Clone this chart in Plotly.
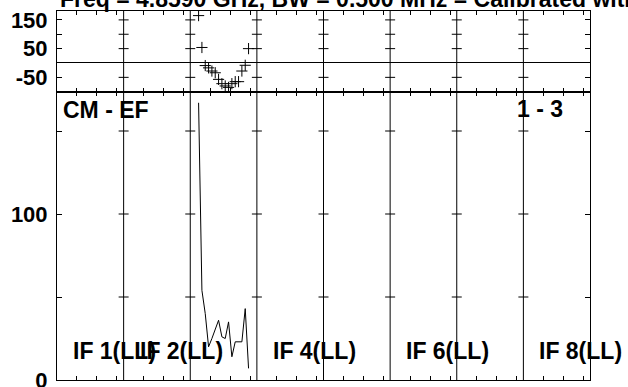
import plotly.graph_objects as go

# POSSM-style spectrum, baseline CM - EF, 8 IFs x 20 channels
n_if = 8
n_chan = 20
data_if = 3
channels = [3, 4, 5, 6, 7, 8, 9, 10, 11, 12, 13, 14, 15, 16, 17, 18]
amplitude = [167, 54, 40, 20, 25, 31, 36, 26, 25, 35, 14, 23, 23, 23, 43, 7]
phase = [165, 54, -9, -17, -28, -34, -57, -72, -80, -85, -72, -65, -65, -28, -8, 50]
if_labels = ["IF 1(LL)", "IF 2(LL)", "IF 4(LL)", "IF 6(LL)", "IF 8(LL)"]
if_label_index = [1, 2, 4, 6, 8]
amp_ticks = [0, 50, 100, 150]
amp_ticktext = ["0", "", "100", ""]
phase_ticks = [-50, 0, 50, 100, 150]
phase_ticktext = ["-50", "", "50", "", "150"]
chan_ticks = [6, 12, 18]

W, H = 628, 387
PL, PR, PT, PB = 57, 590, 11, 380      # plot area in pixels
split = 0.7805
TICKFONT = dict(family="Liberation Sans, Arial, sans-serif", size=22, color="black", weight="bold")
FONT = dict(family="Liberation Sans, Arial, sans-serif", size=23, color="black", weight="bold")

x_data = [(data_if - 1) * n_chan + c - 0.5 for c in channels]

fig = go.Figure()
fig.add_trace(go.Scatter(x=x_data, y=amplitude, mode="lines",
                         line=dict(color="black", width=1), xaxis="x", yaxis="y"))
fig.add_trace(go.Scatter(x=x_data, y=phase, mode="markers",
                         marker=dict(symbol="cross-thin", size=8, line=dict(color="black", width=1)),
                         xaxis="x2", yaxis="y2"))

xtick_vals = [i * n_chan + t for i in range(n_if) for t in chan_ticks]
xcommon = dict(range=[0, n_if * n_chan], showline=True, linecolor="black", linewidth=1,
               mirror="ticks", ticks="inside", ticklen=4, tickcolor="black", automargin=False,
               tickvals=xtick_vals, showticklabels=False, showgrid=False, zeroline=False)
ycommon = dict(showline=True, linecolor="black", linewidth=1, mirror="ticks",
               ticks="inside", ticklen=5, tickcolor="black", showgrid=False, automargin=False,
               tickfont=TICKFONT, ticklabelstandoff=4, ticklabeloverflow="allow")

fig.update_layout(
    width=W, height=H,
    margin=dict(l=PL, r=W - PR, t=PT, b=H - PB, autoexpand=False),
    paper_bgcolor="white", plot_bgcolor="white", showlegend=False,
    xaxis=dict(xcommon, anchor="y"),
    xaxis2=dict(xcommon, anchor="y2", matches="x"),
    yaxis=dict(ycommon, domain=[0, split], range=[0, 173.5],
               tickvals=amp_ticks, ticktext=amp_ticktext, zeroline=False),
    yaxis2=dict(ycommon, domain=[split, 1], range=[-101, 181],
                tickvals=phase_ticks, ticktext=phase_ticktext,
                zeroline=True, zerolinecolor="black", zerolinewidth=1),
)

# IF separators with crossing ticks
for j in range(1, n_if):
    xs = j * n_chan
    fig.add_shape(type="line", xref="x", yref="paper", x0=xs, x1=xs, y0=0, y1=1,
                  line=dict(color="black", width=1))
    for yv in [50, 100, 150]:
        fig.add_shape(type="line", xref="x", yref="y", xsizemode="pixel", xanchor=xs,
                      x0=-5, x1=5, y0=yv, y1=yv, line=dict(color="black", width=1))
    for yv in [-50, 50, 100, 150]:
        fig.add_shape(type="line", xref="x", yref="y2", xsizemode="pixel", xanchor=xs,
                      x0=-5, x1=5, y0=yv, y1=yv, line=dict(color="black", width=1))


def px(xp):
    return (xp - PL) / (PR - PL)


def py(yp):
    return (PB - yp) / (PB - PT)


fig.add_annotation(text="CM - EF", xref="paper", yref="paper", x=px(61), y=py(110.5),
                   xanchor="left", yanchor="middle", showarrow=False, font=FONT)
fig.add_annotation(text="1 - 3", xref="paper", yref="paper", x=px(565), y=py(109.5),
                   xanchor="right", yanchor="middle", showarrow=False, font=FONT)
panel_w = (PR - PL) / n_if
for lab, k in zip(if_labels, if_label_index):
    fig.add_annotation(text=lab, xref="paper", yref="paper",
                       x=px(71 + panel_w * (k - 1)), y=py(350.5),
                       xanchor="left", yanchor="middle", showarrow=False, font=FONT)

fig.add_annotation(text="Freq = 4.8590 GHz, BW = 0.500 MHz = Calibrated with CL # 1",
                   xref="paper", yref="paper", x=px(58), y=py(14),
                   xanchor="left", yanchor="bottom", showarrow=False, font=FONT)

# drop the default page margin so the figure sits at the window corner
fig.write_html("out.html", config={"displayModeBar": False},
               post_script="document.body.style.margin = '0';")
